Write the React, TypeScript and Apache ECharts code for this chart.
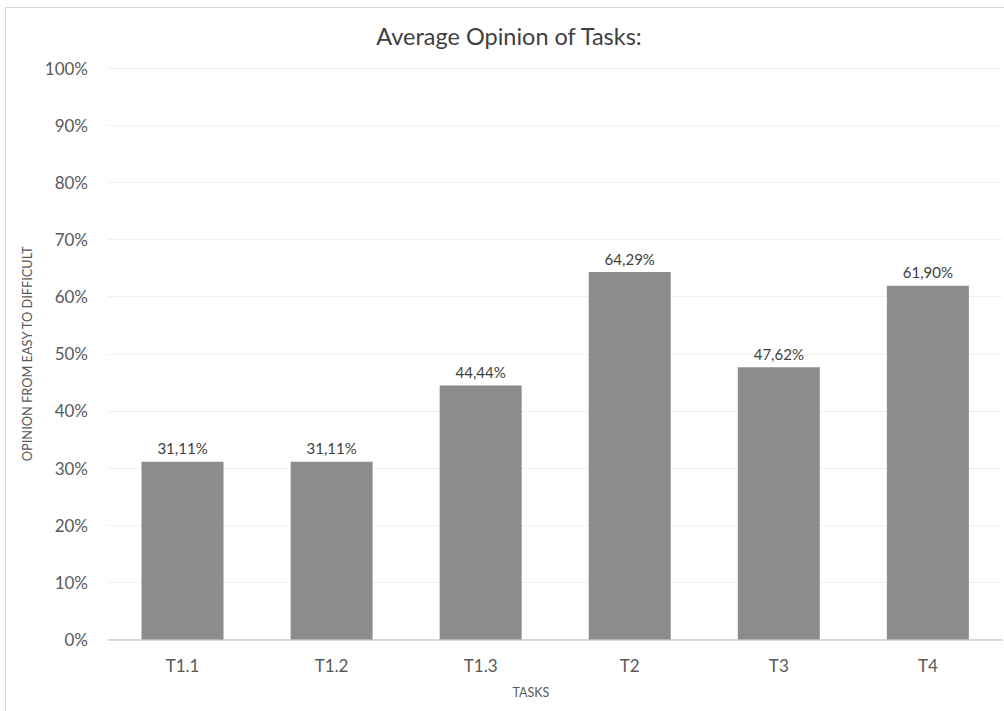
import React, { useEffect, useRef } from "react";
import * as echarts from "echarts";

const categories = ["T1.1", "T1.2", "T1.3", "T2", "T3", "T4"];
const opinionValues = [31.11, 31.11, 44.44, 64.29, 47.62, 61.9];
const yTicks = [0, 10, 20, 30, 40, 50, 60, 70, 80, 90, 100];

const FONT = "Lato, 'Noto Sans', sans-serif";

export default function App() {
  const ref = useRef<HTMLDivElement>(null);

  useEffect(() => {
    if (!ref.current) return;
    const chart = echarts.init(ref.current, undefined, { renderer: "svg" });
    chart.setOption({
      animation: false,
      backgroundColor: "#ffffff",
      textStyle: { fontFamily: FONT },
      graphic: [
        {
          type: "rect",
          shape: { x: 5.5, y: 7.5, width: 1100, height: 800 },
          style: { fill: "none", stroke: "#d9d9d9", lineWidth: 1 },
          silent: true,
        },
        {
          type: "text",
          x: 509,
          y: 36,
          style: {
            text: "Average Opinion of Tasks:",
            fontFamily: FONT,
            fontSize: 23.5,
            fill: "#404040",
            align: "center",
            verticalAlign: "middle",
          },
        },
        {
          type: "text",
          x: 531,
          y: 692,
          style: {
            text: "TASKS",
            fontFamily: FONT,
            fontSize: 12.5,
            fill: "#595959",
            align: "center",
            verticalAlign: "middle",
          },
        },
      ],
      grid: {
        left: 108,
        right: 1.6,
        top: 68,
        bottom: 71.5,
        containLabel: false,
        outerBoundsMode: "none",
      },
      xAxis: {
        type: "category",
        data: categories,
        axisLine: { lineStyle: { color: "#d0d0d0", width: 1.5 } },
        axisTick: { show: false },
        axisLabel: {
          color: "#595959",
          fontSize: 17,
          fontFamily: FONT,
          margin: 17,
        },
      },
      yAxis: {
        type: "value",
        min: yTicks[0],
        max: yTicks[yTicks.length - 1],
        interval: 10,
        name: "OPINION FROM EASY TO DIFFICULT",
        nameLocation: "middle",
        nameGap: 77,
        nameRotate: 90,
        nameTextStyle: {
          color: "#595959",
          fontSize: 12.8,
          fontFamily: FONT,
          verticalAlign: "middle",
        },
        axisLine: { show: false },
        axisTick: { show: false },
        splitLine: { lineStyle: { color: "#f0f0f0", width: 1 } },
        axisLabel: {
          color: "#595959",
          fontSize: 17,
          fontFamily: FONT,
          margin: 20,
          formatter: (v: number) => `${v}%`,
        },
      },
      series: [
        {
          type: "bar",
          data: opinionValues,
          barWidth: "55%",
          itemStyle: { color: "#8c8c8c" },
          label: {
            show: true,
            position: "top",
            distance: 6,
            color: "#404040",
            fontSize: 15,
            fontFamily: FONT,
            formatter: (p: any) =>
              `${Number(p.value).toFixed(2).replace(".", ",")}%`,
          },
        },
      ],
    });
    return () => chart.dispose();
  }, []);

  return (
    <div
      ref={ref}
      style={{ position: "absolute", left: 0, top: 0, width: 1004, height: 711 }}
    />
  );
}
